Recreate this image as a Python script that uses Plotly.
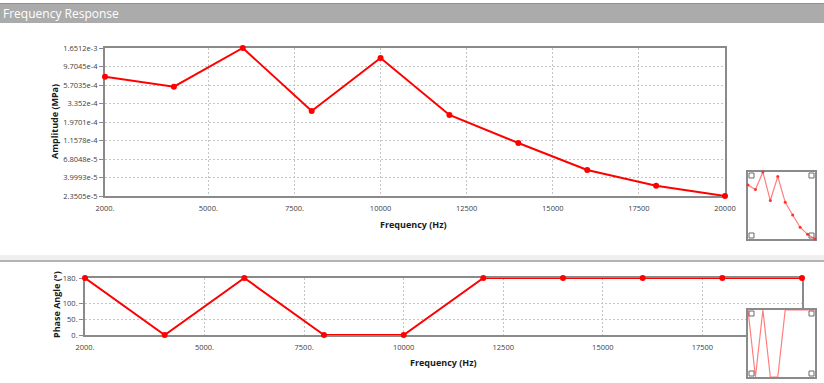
import plotly.graph_objects as go

# ---- data ----
freq = [2000, 4000, 6000, 8000, 10000, 12000, 14000, 16000, 18000, 20000]
amplitude = [7.24e-4, 5.43e-4, 1.6512e-3, 2.70e-4, 1.24e-3, 2.41e-4, 1.078e-4, 4.96e-5, 3.16e-5, 2.3505e-5]
phase = [180, 0, 180, 0, 0, 180, 180, 180, 180, 180]

amp_tickvals = [2.3505e-5, 3.9993e-5, 6.8048e-5, 1.1578e-4, 1.9701e-4, 3.352e-4, 5.7035e-4, 9.7045e-4, 1.6512e-3]
amp_ticktext = ["2.3505e-5", "3.9993e-5", "6.8048e-5", "1.1578e-4", "1.9701e-4", "3.352e-4", "5.7035e-4", "9.7045e-4", "1.6512e-3"]
freq_tickvals = [2000, 5000, 7500, 10000, 12500, 15000, 17500, 20000]
freq_ticktext = ["2000.", "5000.", "7500.", "10000", "12500", "15000", "17500", "20000"]
phase_tickvals = [0, 50, 100, 180]
phase_ticktext = ["0.", "50.", "100.", "180."]

W, H = 824, 383
FONT = "Open Sans"

def px(x):
    return x / W

def py(y):
    return 1 - y / H

fig = go.Figure()

RED = "#ff0000"
fig.add_trace(go.Scatter(x=freq, y=amplitude, mode="lines+markers", xaxis="x", yaxis="y",
                         line=dict(color=RED, width=2), marker=dict(color=RED, size=6),
                         cliponaxis=False, showlegend=False))
fig.add_trace(go.Scatter(x=freq, y=phase, mode="lines+markers", xaxis="x2", yaxis="y2",
                         line=dict(color=RED, width=2), marker=dict(color=RED, size=6),
                         cliponaxis=False, showlegend=False))
THUMB = "#ff7f7f"
fig.add_trace(go.Scatter(x=freq, y=amplitude, mode="lines+markers", xaxis="x3", yaxis="y3",
                         line=dict(color=THUMB, width=1.2), marker=dict(color="#ff3030", size=3),
                         cliponaxis=False, showlegend=False))
fig.add_trace(go.Scatter(x=freq, y=phase, mode="lines", xaxis="x4", yaxis="y4",
                         line=dict(color=THUMB, width=1.2),
                         cliponaxis=False, showlegend=False))

tickfont = dict(family=FONT, size=7.5, color="#404040")
axline = dict(showline=True, linecolor="#8a8a8a", linewidth=2, mirror=True, zeroline=False,
              automargin=False, layer="below traces")
grid = dict(showgrid=True, gridcolor="#c4c4c4", griddash="2px,2px", gridwidth=1)
thumbax = dict(showticklabels=False, ticks="", showgrid=False, showline=True,
               linecolor="#8a8a8a", linewidth=2, mirror=True, zeroline=False,
               automargin=False, layer="below traces")

layout = dict(
    template="none",
    width=W, height=H, margin=dict(l=0, r=0, t=0, b=0, pad=0, autoexpand=False),
    paper_bgcolor="white", plot_bgcolor="white",
    xaxis=dict(domain=[px(105), px(725)], anchor="y", range=[2000, 20000],
               tickvals=freq_tickvals, ticktext=freq_ticktext, tickfont=tickfont,
               ticks="", ticklabelstandoff=4, **axline, **grid),
    yaxis=dict(domain=[py(196), py(48)], anchor="x", type="log",
               range=[-4.62885, -2.78220],
               tickvals=amp_tickvals, ticktext=amp_ticktext, tickfont=tickfont,
               ticks="outside", ticklen=4, tickcolor="#8a8a8a", **axline, **grid),
    xaxis2=dict(domain=[px(85), px(802)], anchor="y2", range=[2000, 20000],
                tickvals=freq_tickvals, ticktext=freq_ticktext, tickfont=tickfont,
                ticks="", ticklabelstandoff=4, **axline, **grid),
    yaxis2=dict(domain=[py(335), py(278)], anchor="x2", range=[0, 180],
                tickvals=phase_tickvals, ticktext=phase_ticktext, tickfont=tickfont,
                ticks="outside", ticklen=4, tickcolor="#8a8a8a", **axline, **grid),
    xaxis3=dict(domain=[px(748), px(815)], anchor="y3", range=[2000, 20000], **thumbax),
    yaxis3=dict(domain=[py(239), py(172)], anchor="x3", type="log",
                range=[-4.62885, -2.78220], **thumbax),
    xaxis4=dict(domain=[px(748), px(815)], anchor="y4", range=[2000, 20000], **thumbax),
    yaxis4=dict(domain=[py(377), py(310)], anchor="x4", range=[0, 180], **thumbax),
)
fig.update_layout(**layout)

shapes = []
# title bar
shapes.append(dict(type="rect", xref="paper", yref="paper", x0=0, x1=1, y0=py(23), y1=py(3),
                   fillcolor="#ababab", line=dict(width=0), layer="below"))
shapes.append(dict(type="line", xref="paper", yref="paper", x0=0, x1=1, y0=py(3.5), y1=py(3.5),
                   line=dict(color="#8f8f8f", width=1), layer="below"))
# separator strip
shapes.append(dict(type="rect", xref="paper", yref="paper", x0=0, x1=1, y0=py(260), y1=py(255),
                   fillcolor="#efefef", line=dict(width=0), layer="below"))
shapes.append(dict(type="line", xref="paper", yref="paper", x0=0, x1=1, y0=py(261), y1=py(261),
                   line=dict(color="#9a9a9a", width=1.5), layer="below"))
# thumbnail corner squares
for (x0, x1, y0, y1) in [(748, 815, 172, 239), (748, 815, 310, 377)]:
    s = 5
    for cx, cy in [(x0 + 1, y0 + 1), (x1 - 1 - s, y0 + 1), (x0 + 1, y1 - 1 - s), (x1 - 1 - s, y1 - 1 - s)]:
        shapes.append(dict(type="rect", xref="paper", yref="paper",
                           x0=px(cx), x1=px(cx + s), y0=py(cy + s), y1=py(cy),
                           fillcolor="rgba(0,0,0,0)", line=dict(color="#6a6a6a", width=1), layer="above"))
fig.update_layout(shapes=shapes)

ann = []
ann.append(dict(text="Frequency Response", xref="paper", yref="paper", x=px(1), y=py(13),
                xanchor="left", yanchor="middle", showarrow=False,
                font=dict(family=FONT, size=12, color="white")))
ann.append(dict(text="<b>Amplitude (MPa)</b>", xref="paper", yref="paper", x=px(54), y=py(122),
                textangle=-90, xanchor="center", yanchor="middle", showarrow=False,
                font=dict(family=FONT, size=9, color="#1a1a1a")))
ann.append(dict(text="<b>Frequency (Hz)</b>", xref="paper", yref="paper", x=px(413), y=py(224),
                xanchor="center", yanchor="middle", showarrow=False,
                font=dict(family=FONT, size=9, color="#1a1a1a")))
ann.append(dict(text="<b>Phase Angle (°)</b>", xref="paper", yref="paper", x=px(56), y=py(305),
                textangle=-90, xanchor="center", yanchor="middle", showarrow=False,
                font=dict(family=FONT, size=9, color="#1a1a1a")))
ann.append(dict(text="<b>Frequency (Hz)</b>", xref="paper", yref="paper", x=px(443), y=py(362),
                xanchor="center", yanchor="middle", showarrow=False,
                font=dict(family=FONT, size=9, color="#1a1a1a")))
fig.update_layout(annotations=ann)

fig.write_html("out.html", config={"displayModeBar": False},
               post_script="document.body.style.margin='0';document.body.style.overflow='hidden';")
